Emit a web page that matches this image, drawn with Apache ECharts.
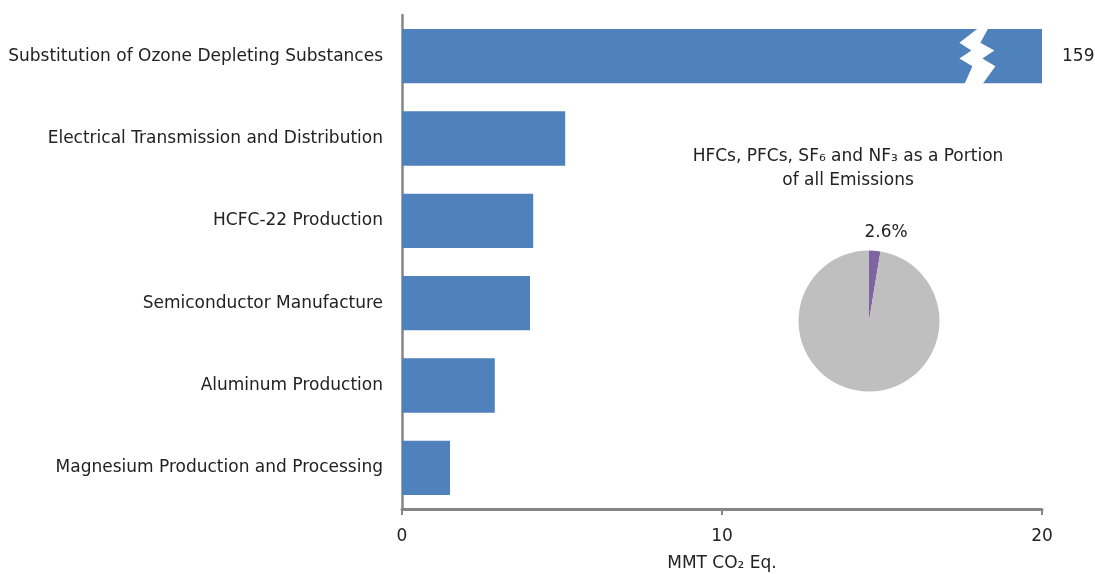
<!DOCTYPE html>
<html>
<head>
<meta charset="utf-8">
<script src="https://cdn.jsdelivr.net/npm/echarts@6/dist/echarts.min.js"></script>
<style>
  html, body { margin: 0; padding: 0; background: #fff; }
  #chart { width: 1095px; height: 574px; }
</style>
</head>
<body>
<div id="chart"></div>
<script>
// Emission sources (MMT CO2 Eq.)
const categories = [
  'Substitution of Ozone Depleting Substances',
  'Electrical Transmission and Distribution',
  'HCFC-22 Production',
  'Semiconductor Manufacture',
  'Aluminum Production',
  'Magnesium Production and Processing'
];
const emissions = [159, 5.1, 4.1, 4.0, 2.9, 1.5];
const xTicks = [0, 10, 20];
const axisMax = 20;
const breakAt = 17.7;           // where the axis break is drawn on the long bar

// Share of all emissions
const pieLabels = ['HFCs, PFCs, SF\u2086 and NF\u2083', 'All other gases'];
const pieValues = [2.6, 97.4];

const FONT = '"DejaVu Sans", Verdana, sans-serif';
const TEXT = '#222';
const BAR = '#4F81BD';

const chart = echarts.init(document.getElementById('chart'));

// bars that run past the axis maximum get a zigzag break
const brokenBars = emissions
  .map((v, i) => [v, i])
  .filter(d => d[0] > axisMax)
  .map(d => [breakAt, d[1]]);

chart.setOption({
  animation: false,
  backgroundColor: '#fff',
  grid: {
    left: 402, right: 53, top: 15, bottom: 65,
    containLabel: false,
    outerBoundsMode: 'none'
  },
  xAxis: {
    type: 'value',
    min: xTicks[0],
    max: axisMax,
    interval: xTicks[1] - xTicks[0],
    name: 'MMT CO\u2082 Eq.',
    nameLocation: 'middle',
    nameGap: 46,
    nameTextStyle: { fontFamily: FONT, fontSize: 17, color: TEXT },
    axisLine: { show: true, lineStyle: { color: '#868686', width: 3 } },
    axisTick: { show: true, length: 6, lineStyle: { color: '#868686', width: 2 } },
    axisLabel: { fontFamily: FONT, fontSize: 17, color: TEXT, margin: 19 },
    splitLine: { show: false }
  },
  yAxis: {
    type: 'category',
    data: categories,
    inverse: true,
    axisLine: { show: true, lineStyle: { color: '#868686', width: 2.5 } },
    axisTick: { show: false },
    axisLabel: { fontFamily: FONT, fontSize: 17, color: TEXT, margin: 19 }
  },
  series: [
    {
      type: 'bar',
      data: emissions.map(v => v > axisMax
        ? { value: v, label: { show: true } }
        : v),
      barCategoryGap: '34%',
      clip: true,
      itemStyle: { color: BAR },
      label: {
        show: false,
        position: 'right',
        distance: 20,
        fontFamily: FONT,
        fontSize: 17,
        color: TEXT
      }
    },
    {
      // zigzag break cut into bars that exceed the axis
      type: 'custom',
      data: brokenBars,
      z: 5,
      silent: true,
      renderItem: function (params, api) {
        const p = api.coord([api.value(0), api.value(1)]);
        const band = api.size([0, 1])[1];
        const h = band * 0.66;
        const top = p[1] - h / 2 - 1;
        const bot = p[1] + h / 2 + 1;
        const H = bot - top;
        // [fraction down the bar, left edge offset, right edge offset]
        const edge = [
          [0, 10, 20], [0.26, -9, 12], [0.4, 3, 26],
          [0.54, -9, 14], [0.68, 4, 27], [1, -4, 14]
        ];
        const left = edge.map(e => [p[0] + e[1], top + e[0] * H]);
        const right = edge.slice().reverse().map(e => [p[0] + e[2], top + e[0] * H]);
        return {
          type: 'polygon',
          shape: { points: left.concat(right) },
          style: { fill: '#fff' }
        };
      }
    },
    {
      type: 'pie',
      center: [869, 321],
      radius: 70.5,
      startAngle: 90,
      clockwise: true,
      silent: true,
      label: { show: false },
      labelLine: { show: false },
      data: [
        { name: pieLabels[0], value: pieValues[0], itemStyle: { color: '#8064A2' } },
        { name: pieLabels[1], value: pieValues[1], itemStyle: { color: '#BFBFBF' } }
      ]
    }
  ],
  graphic: [
    {
      type: 'text',
      x: 848,
      y: 169,
      style: {
        text: 'HFCs, PFCs, SF\u2086 and NF\u2083 as a Portion\nof all Emissions',
        align: 'center',
        verticalAlign: 'middle',
        lineHeight: 24,
        font: '17px ' + FONT,
        fill: TEXT
      }
    },
    {
      type: 'text',
      x: 886,
      y: 233,
      style: {
        text: pieValues[0].toFixed(1) + '%',
        align: 'center',
        verticalAlign: 'middle',
        font: '17px ' + FONT,
        fill: TEXT
      }
    }
  ]
});
</script>
</body>
</html>
